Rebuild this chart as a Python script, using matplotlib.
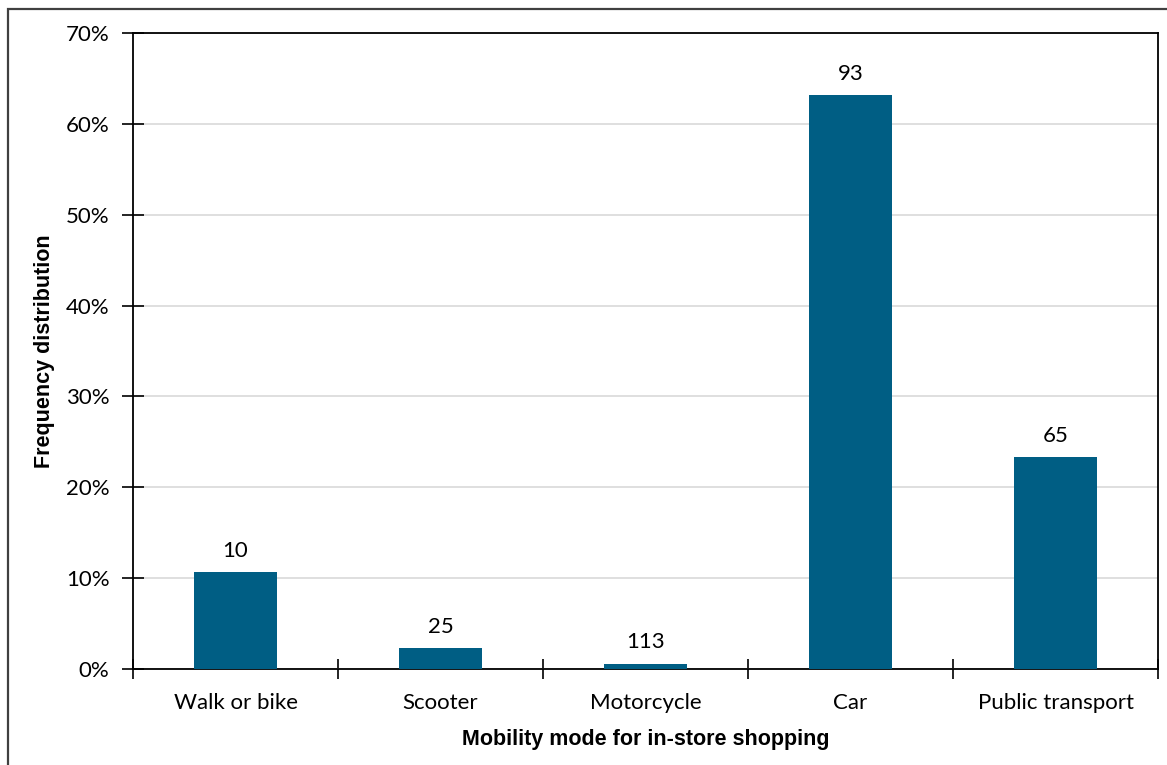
import matplotlib
matplotlib.use("Agg")
import matplotlib.pyplot as plt
from matplotlib.patches import Rectangle
from matplotlib.ticker import PercentFormatter, FixedLocator, NullFormatter
import numpy as np

# Mobility modes and their share of respondents
categories = ["Walk or bike", "Scooter", "Motorcycle", "Car", "Public transport"]
shares = [10.7, 2.3, 0.6, 63.2, 23.3]          # percent
bar_labels = ["10", "25", "113", "93", "65"]   # annotation above each bar

BAR_COLOR = "#005E84"
GRID_COLOR = "#D9D9D9"

plt.rcParams["font.family"] = ["Lato", "DejaVu Sans"]

fig = plt.figure(figsize=(11.67, 7.65), dpi=100)
W, H = 1167, 765
ax = fig.add_axes([133 / W, 1 - 669 / H, (1158 - 133) / W, (669 - 33) / H])

x = np.arange(len(categories))
bars = ax.bar(x, shares, width=0.405, color=BAR_COLOR, zorder=3)

for rect, lab in zip(bars, bar_labels):
    ax.annotate(lab, (rect.get_x() + rect.get_width() / 2, rect.get_height()),
                xytext=(0, 8), textcoords="offset points",
                ha="center", va="bottom", fontsize=16, color="#000000")

ax.set_xlim(-0.5, len(categories) - 0.5)
ax.set_ylim(0, 70)
ax.set_yticks(np.arange(0, 71, 10))
ax.yaxis.set_major_formatter(PercentFormatter(decimals=0))
ax.grid(axis="y", color=GRID_COLOR, linewidth=1.2, zorder=0)

ax.set_xticks(x)
ax.set_xticklabels(categories)
ax.tick_params(axis="x", which="major", length=0, pad=17, labelsize=16)
ax.xaxis.set_minor_locator(FixedLocator(np.arange(-0.5, len(categories), 1.0)))
ax.xaxis.set_minor_formatter(NullFormatter())
ax.tick_params(axis="x", which="minor", direction="inout", length=15, width=1.2,
               color="#000000")
ax.tick_params(axis="y", direction="inout", length=16, width=1.2, pad=9,
               labelsize=16)

for side in ["left", "right", "top", "bottom"]:
    ax.spines[side].set_color("#000000")
    ax.spines[side].set_linewidth(1.3)

label_font = ["Liberation Sans Narrow", "Liberation Sans", "DejaVu Sans"]
ax.set_xlabel("Mobility mode for in-store shopping", fontsize=15.5,
              fontweight="bold", family=label_font, labelpad=12)
ax.set_ylabel("Frequency distribution", fontsize=15.5, fontweight="bold",
              family=label_font, labelpad=8)

# Frame around the whole chart
fig.patches.append(Rectangle((8 / W, -0.05), 1.2, 1 - 9 / H + 0.05,
                             transform=fig.transFigure, fill=False,
                             edgecolor="#404040", linewidth=1.6))

fig.savefig("out.png", dpi=100)
